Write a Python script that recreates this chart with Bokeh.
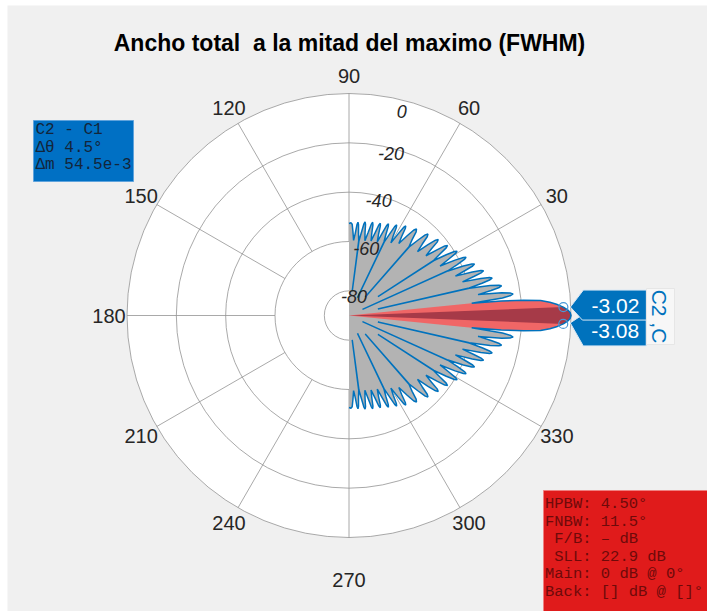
import math
from bokeh.plotting import figure
from bokeh.models import Range1d
from bokeh.embed import file_html
from bokeh.resources import INLINE
from bokeh.core.properties import value

# ---------------- data ----------------
TITLE = "Ancho total \u00a0a la mitad del maximo (FWHM)"
ANGLE_TICKS = [0, 30, 60, 90, 120, 150, 180, 210, 240, 270, 300, 330]
MAG_TICKS = [0, -20, -40, -60, -80]
R_MIN = -90.0
R_MAX = 0.0

# upper half of the (symmetric) radiation pattern: angle (deg) and level (dB)
up_deg = [0, 0.75, 1.5, 2.25, 3.0, 3.75, 4.5, 5.0, 5.4, 5.75,
          6.51, 7.06, 7.48, 7.89, 8.44, 9.2,
          9.99, 10.57, 11.0, 11.43, 12.01, 12.75, 12.8, 12.85,
          13.61, 14.21, 14.65, 15.09, 15.69, 16.5,
          17.34, 17.94, 18.4, 18.86, 19.46, 20.3,
          21.18, 21.82, 22.3, 22.78, 23.42, 24.25, 24.3, 24.35,
          25.22, 25.9, 26.4, 26.9, 27.58, 28.5,
          29.49, 30.21, 30.75, 31.29, 32.01, 32.94, 33.0, 33.06,
          34.06, 34.82, 35.4, 35.98, 36.74, 37.8,
          38.94, 39.78, 40.4, 41.02, 41.86, 43.0,
          44.28, 45.2, 45.9, 46.6, 47.52, 48.72, 48.8, 48.88,
          50.23, 51.27, 52.05, 52.83, 53.87, 55.3,
          56.33, 57.09, 57.65, 58.21, 58.97, 60.0,
          60.99, 61.71, 62.25, 62.79, 63.51, 64.42, 64.5, 64.58,
          65.49, 66.21, 66.75, 67.29, 68.01, 69.0,
          69.99, 70.71, 71.25, 71.79, 72.51, 73.5,
          74.49, 75.21, 75.75, 76.29, 77.01, 78.0,
          78.99, 79.71, 80.25, 80.79, 81.51, 82.42, 82.5, 82.58,
          83.38, 84.02, 84.5, 84.98, 85.62, 86.5,
          87.3, 88.0, 88.8, 90.0]
up_db = [0, -0.33, -1.35, -3.05, -5.4, -8.4, -12.1, -19, -28, -40,
         -27.4, -23.9, -22.9, -23.9, -27.4, -37,
         -31.5, -28, -27, -28, -31.5, -40, -78, -40,
         -34.5, -31, -30, -31, -34.5, -42,
         -37, -33.5, -32.5, -33.5, -37, -44,
         -39.5, -36, -35, -36, -39.5, -46, -84, -46,
         -41.5, -38, -37, -38, -41.5, -48,
         -43.5, -40, -39, -40, -43.5, -49, -76, -49,
         -45.5, -42, -41, -42, -45.5, -50.5,
         -47, -43.5, -42.5, -43.5, -47, -52,
         -48.5, -45, -44, -45, -48.5, -53, -80, -53,
         -50, -46.5, -45.5, -46.5, -50, -54.5,
         -51.5, -48, -47, -48, -51.5, -56,
         -53, -49.5, -48.5, -49.5, -53, -57, -82, -57,
         -54, -50.5, -49.5, -50.5, -54, -58,
         -55, -51.5, -50.5, -51.5, -55, -58.5,
         -55.5, -52, -51, -52, -55.5, -59,
         -56, -52.5, -51.5, -52.5, -56, -59.5, -80, -59.5,
         -56.5, -53, -52, -53, -56.5, -59.5,
         -56, -53, -52.4, -52.7]

HPBW = 4.5
FNBW = 11.5
marker_names = ["C2", "C1"]
marker_deg = [2.25, -2.25]
marker_db = [-3.02, -3.08]
marker_text = ["-3.02", "-3.08"]

left_box_lines = ["C2 - C1", "\u0394\u03b8 4.5\u00b0", "\u0394m 54.5e-3"]
right_box_lines = ["HPBW: 4.50\u00b0", "FNBW: 11.5\u00b0", "\u00a0F/B: \u2013 dB", "\u00a0SLL: 22.9 dB",
                   "Main: 0 dB @ 0\u00b0", "Back: [] dB @ []\u00b0"]

# ---------------- layout ----------------
W, H = 707, 611
FL, FT = 7, 5                   # white strip left / top
FW, FH = W - FL, H - FT
PCX, PCY = 348.5, 315.0         # polar centre in page pixels
CX, CY = PCX - FL, PCY - FT     # polar centre in frame pixels
R_PX = 222.0                    # outer ring radius in pixels
PX = R_PX / (R_MAX - R_MIN)     # pixels per dB unit


def sx(px):   # page pixel x -> data x
    return (px - PCX) / PX


def sy(py):   # page pixel y -> data y
    return (PCY - py) / PX


def pol(deg, db):
    r = max(db, R_MIN) - R_MIN
    a = math.radians(deg)
    return r * math.cos(a), r * math.sin(a)


p = figure(width=W, height=H, x_range=Range1d(-CX / PX, (FW - CX) / PX),
           y_range=Range1d(-(FH - CY) / PX, CY / PX), x_axis_type=None, y_axis_type=None,
           toolbar_location=None, output_backend="svg",
           min_border_left=FL, min_border_top=FT, min_border_right=0, min_border_bottom=0,
           background_fill_color="#f0f0f0", border_fill_color="white")
p.outline_line_color = None
p.grid.visible = False

GRID = "#939393"
FONT = value("Liberation Sans")
MONO = value("Liberation Mono")

# polar disk
p.circle(x=[0], y=[0], radius=R_MAX - R_MIN, fill_color="white", line_color=None)
# spokes
for a in ANGLE_TICKS:
    x0, y0 = pol(a, -60)
    x1, y1 = pol(a, R_MAX)
    p.line([x0, x1], [y0, y1], line_color=GRID, line_width=0.8)
# rings
p.circle(x=[0] * len(MAG_TICKS), y=[0] * len(MAG_TICKS), radius=[m - R_MIN for m in MAG_TICKS],
         fill_color=None, line_color=GRID, line_width=0.8)

# full pattern (mirror of the upper half)
deg = [-a for a in up_deg[::-1]] + up_deg[1:]
db = up_db[::-1] + up_db[1:]
pts = [pol(a, d) for a, d in zip(deg, db)]
xs = [q[0] for q in pts]
ys = [q[1] for q in pts]
p.patch(xs + [0], ys + [0], fill_color="#b3b3b3", line_color=None)

# main lobe (FNBW) and half-power (HPBW) regions
fn = [pol(a, d) for a, d in zip(deg, db) if abs(a) <= FNBW / 2 + 1e-9]
p.patch([0] + [q[0] for q in fn], [0] + [q[1] for q in fn], fill_color="#f06666", line_color=None)
hp = [pol(a, d) for a, d in zip(deg, db) if abs(a) <= HPBW / 2 + 1e-9]
p.patch([0] + [q[0] for q in hp], [0] + [q[1] for q in hp], fill_color="#a63a48", line_color=None)

p.line(xs, ys, line_color="#0072BD", line_width=1.5)

# angle labels (the bottom label sits a little lower in the original)
lab_r = 240.0 / PX
for a in ANGLE_TICKS:
    t = math.radians(a)
    extra = 24.0 / PX if a == 270 else 0.0
    p.text([lab_r * math.cos(t)], [lab_r * math.sin(t) - extra], text=[str(a)], text_font=FONT,
           text_font_size="20px", text_color="#262626", text_align="center", text_baseline="middle")

# magnitude labels
for m in MAG_TICKS:
    off = 11.0 if m == R_MAX else 5.0
    r = m - R_MIN - off / PX
    t = math.radians(75.5)
    p.text([r * math.cos(t)], [r * math.sin(t)], text=[str(m)], text_font=FONT,
           text_font_style="italic", text_font_size="18px", text_color="#262626",
           text_align="center", text_baseline="middle")

# title
p.text([sx(349)], [sy(42)], text=[TITLE], text_font=FONT, text_font_style="bold",
       text_font_size="23px", text_color="black", text_align="center", text_baseline="middle")

# data tips (flags)
BLUE = "#0072BD"
mk = [pol(a, d) for a, d in zip(marker_deg, marker_db)]
flag_shapes = [[(7, 0), (20, -17), (83, -17), (83, 13), (19, 13)],
               [(7, -1), (19, -9), (83, -9), (83, 22), (20, 22)]]
for i in [1, 0]:
    mx, my = mk[i]
    px0 = mx * PX
    py0 = -my * PX
    fx = [(px0 + dx) / PX for dx, dy in flag_shapes[i]]
    fy = [-(py0 + dy) / PX for dx, dy in flag_shapes[i]]
    p.patch(fx, fy, fill_color=BLUE, line_color="#d9e8f5", line_width=1)
    p.text([(px0 + 52) / PX], [-(py0 + (-1 if i == 0 else 7)) / PX], text=[marker_text[i]],
           text_font=FONT, text_font_size="21px", text_color="white",
           text_align="center", text_baseline="middle")
p.scatter([q[0] for q in mk], [q[1] for q in mk], size=9, marker="circle",
          fill_color=None, line_color="#4a98d6", line_width=1.2)

# marker tag box
p.quad(left=[sx(646)], right=[sx(674)], top=[sy(288)], bottom=[sy(344)],
       fill_color="#f7f7f7", line_color="#e6e6e6")
p.text([sx(659)], [sy(316)], text=[(marker_names[0] + " ," + marker_names[1])[:5]],
       angle=-math.pi / 2, text_font=FONT, text_font_size="21px", text_color=BLUE,
       text_align="center", text_baseline="middle")

# left cursor box
p.quad(left=[sx(33)], right=[sx(133)], top=[sy(120)], bottom=[sy(181)],
       fill_color="#0070C4", line_color="#5fa3dc")
for k, s in enumerate(left_box_lines):
    p.text([sx(35)], [sy(129.5 + 17.5 * k)], text=[s], text_font=MONO, text_font_size="16px",
           text_color="#13253a", text_align="left", text_baseline="middle")

# right metrics box
p.quad(left=[sx(543)], right=[sx(720)], top=[sy(490)], bottom=[sy(620)],
       fill_color="#e01b1b", line_color="#ef8080")
for k, s in enumerate(right_box_lines):
    p.text([sx(544.5)], [sy(503.5 + 17.6 * k)], text=[s], text_font=MONO, text_font_size="15.5px",
           text_color="#6e0a0a", text_align="left", text_baseline="middle")

open("out.html", "w").write(file_html(p, INLINE))
